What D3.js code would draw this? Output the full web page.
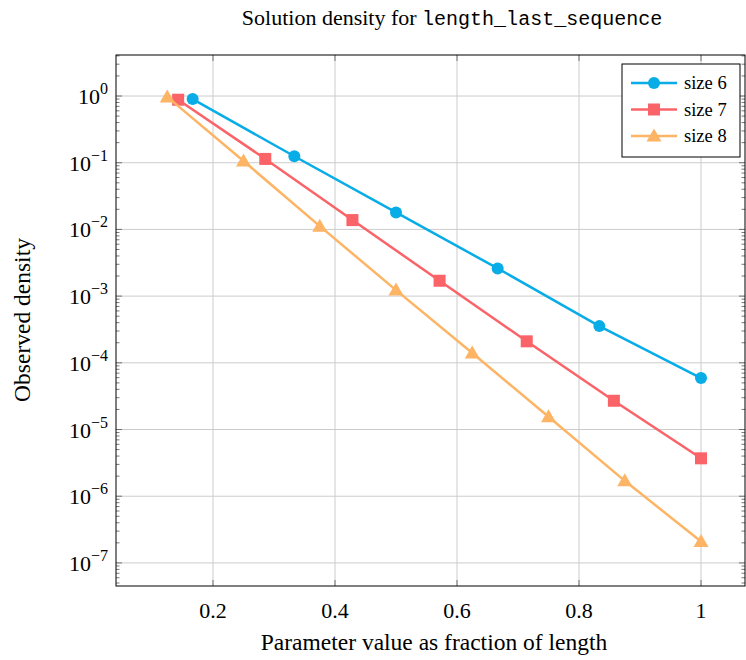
<!DOCTYPE html>
<html>
<head>
<meta charset="utf-8">
<script src="https://cdn.jsdelivr.net/npm/d3@7"></script>
<style>
  body { margin: 0; background: #fff; }
  text { font-family: "Liberation Serif", "Times New Roman", serif; fill: #000; }
</style>
</head>
<body>
<svg id="chart" width="746" height="660"></svg>
<script>
// data
var size6X = [1/6, 2/6, 3/6, 4/6, 5/6, 1];
var size6Y = [0.9, 0.125, 0.018, 0.0026, 3.55e-4, 5.9e-5];
var size7X = [1/7, 2/7, 3/7, 4/7, 5/7, 6/7, 1];
var size7Y = [0.88, 0.114, 0.0138, 0.0017, 2.1e-4, 2.7e-5, 3.7e-6];
var size8X = [1/8, 2/8, 3/8, 4/8, 5/8, 6/8, 7/8, 1];
var size8Y = [0.97, 0.106, 0.0112, 1.23e-3, 1.4e-4, 1.55e-5, 1.7e-6, 2.1e-7];
var xTicks = [0.2, 0.4, 0.6, 0.8, 1];
var yExponents = [0, -1, -2, -3, -4, -5, -6, -7];

var SERIES = [
  {name: "size 6", xs: size6X, ys: size6Y, color: "#08ACE6", marker: "circle"},
  {name: "size 7", xs: size7X, ys: size7Y, color: "#FA6368", marker: "square"},
  {name: "size 8", xs: size8X, ys: size8Y, color: "#FDB464", marker: "triangle"}
];

var svg = d3.select("#chart"),
    pLeft = 116, pRight = 745, pTop = 55, pBottom = 586;

var x = d3.scaleLinear()
    .domain([0.041, 1.0721])
    .range([pLeft, pRight]);
var y = d3.scaleLog()
    .domain([Math.pow(10, 0.615), Math.pow(10, -7.346)])
    .range([pTop, pBottom]);

// grid
var grid = svg.append("g").attr("stroke", "#cccccc").attr("stroke-width", 1);
xTicks.forEach(function(t) {
  grid.append("line").attr("x1", x(t)).attr("x2", x(t)).attr("y1", pTop).attr("y2", pBottom);
});
yExponents.forEach(function(e) {
  var yy = y(Math.pow(10, e));
  grid.append("line").attr("x1", pLeft).attr("x2", pRight).attr("y1", yy).attr("y2", yy);
});

// ticks (inside, both sides)
var ticks = svg.append("g").attr("stroke", "#555").attr("stroke-width", 0.8);
xTicks.forEach(function(t) {
  ticks.append("line").attr("x1", x(t)).attr("x2", x(t)).attr("y1", pBottom).attr("y2", pBottom - 6);
  ticks.append("line").attr("x1", x(t)).attr("x2", x(t)).attr("y1", pTop).attr("y2", pTop + 6);
});
d3.range(-8, 2).forEach(function(e) {
  for (var k = 1; k <= 9; k++) {
    var yy = y(k * Math.pow(10, e));
    if (yy < pTop || yy > pBottom) continue;
    var len = k === 1 ? 6 : 3.5;
    ticks.append("line").attr("x1", pLeft).attr("x2", pLeft + len).attr("y1", yy).attr("y2", yy);
    ticks.append("line").attr("x1", pRight).attr("x2", pRight - len).attr("y1", yy).attr("y2", yy);
  }
});

// frame
svg.append("rect")
    .attr("x", pLeft).attr("y", pTop)
    .attr("width", pRight - pLeft).attr("height", pBottom - pTop)
    .attr("fill", "none").attr("stroke", "#000").attr("stroke-width", 1);

// tick labels
xTicks.forEach(function(t) {
  svg.append("text")
      .attr("x", x(t)).attr("y", pBottom + 32)
      .attr("text-anchor", "middle")
      .style("font-size", "22px")
      .text(t === 1 ? "1" : t.toFixed(1));
});
yExponents.forEach(function(e) {
  var yy = y(Math.pow(10, e));
  var t = svg.append("text")
      .attr("x", 108).attr("y", yy + 8)
      .attr("text-anchor", "end")
      .style("font-size", "22px");
  t.append("tspan").text("10");
  t.append("tspan").attr("dy", -10).style("font-size", "16px")
      .text(e === 0 ? "0" : "\u2212" + (-e));
});

// lines and markers
var line = d3.line()
    .x(function(d) { return x(d[0]); })
    .y(function(d) { return y(d[1]); });

function drawMarker(g, type, cx, cy, color) {
  if (type === "circle") {
    g.append("circle").attr("cx", cx).attr("cy", cy).attr("r", 6).attr("fill", color);
  } else if (type === "square") {
    g.append("rect").attr("x", cx - 6).attr("y", cy - 6).attr("width", 12).attr("height", 12).attr("fill", color);
  } else {
    g.append("path")
        .attr("d", "M" + cx + "," + (cy - 7.5) + "L" + (cx + 7.5) + "," + (cy + 5.5) + "L" + (cx - 7.5) + "," + (cy + 5.5) + "Z")
        .attr("fill", color);
  }
}

SERIES.forEach(function(s) {
  var pts = s.xs.map(function(v, i) { return [v, s.ys[i]]; });
  var g = svg.append("g");
  g.append("path")
      .datum(pts)
      .attr("d", line)
      .attr("fill", "none")
      .attr("stroke", s.color)
      .attr("stroke-width", 2.5);
  pts.forEach(function(p) { drawMarker(g, s.marker, x(p[0]), y(p[1]), s.color); });
});

// legend
var legend = svg.append("g").attr("transform", "translate(622,64)");
legend.append("rect")
    .attr("width", 118).attr("height", 93)
    .attr("fill", "#fff").attr("stroke", "#000").attr("stroke-width", 1);
SERIES.forEach(function(s, i) {
  var ly = 19 + i * 26.5;
  legend.append("line")
      .attr("x1", 9).attr("x2", 55).attr("y1", ly).attr("y2", ly)
      .attr("stroke", s.color).attr("stroke-width", 2.5);
  drawMarker(legend, s.marker, 32, ly, s.color);
  legend.append("text")
      .attr("x", 62).attr("y", ly + 6)
      .style("font-size", "18.5px")
      .text(s.name);
});

// title and axis labels
var title = svg.append("text")
    .attr("x", 452).attr("y", 25)
    .attr("text-anchor", "middle")
    .style("font-size", "22px");
title.append("tspan").text("Solution density for ");
title.append("tspan")
    .style("font-family", "'Liberation Mono', 'DejaVu Sans Mono', monospace")
    .style("font-size", "20px")
    .text("length_last_sequence");

svg.append("text")
    .attr("x", 434).attr("y", 650)
    .attr("text-anchor", "middle")
    .style("font-size", "23.5px")
    .text("Parameter value as fraction of length");

svg.append("text")
    .attr("transform", "translate(30,320) rotate(-90)")
    .attr("text-anchor", "middle")
    .style("font-size", "23.5px")
    .text("Observed density");
</script>
</body>
</html>
